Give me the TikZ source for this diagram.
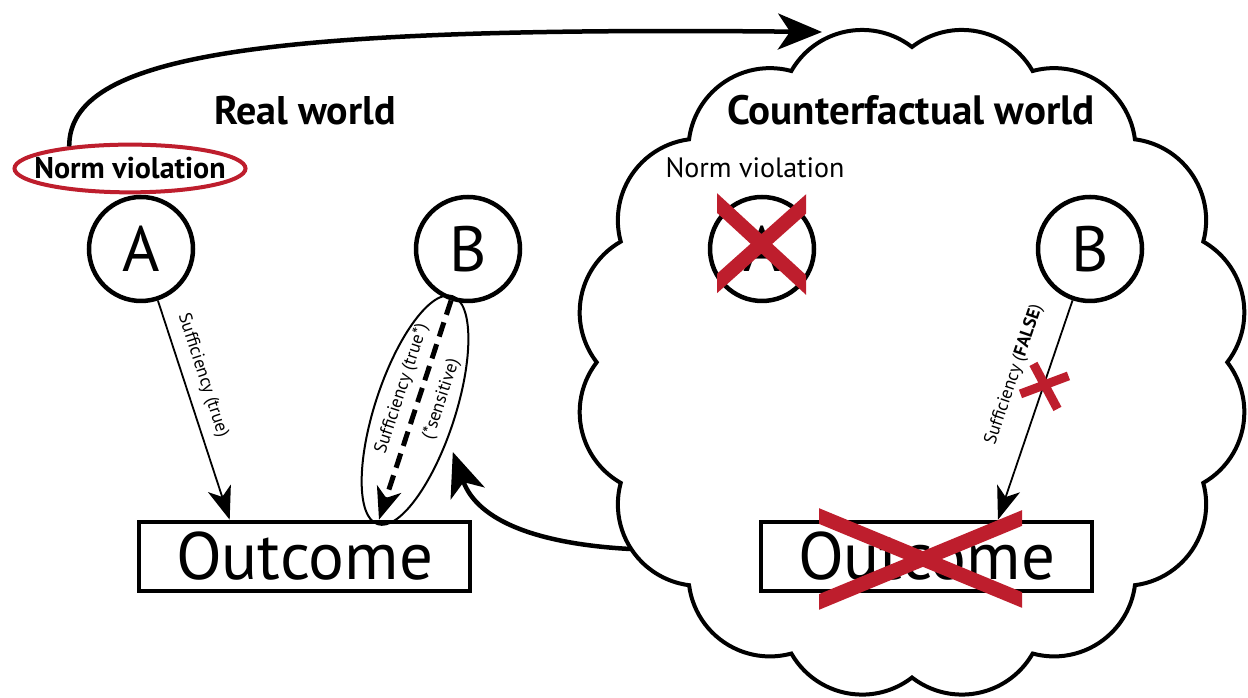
\documentclass[tikz,border=0pt]{standalone}
\usepackage{fontspec}
\setmainfont{PT Sans}
\usepackage{xcolor}
\usepackage{tikz}
\usetikzlibrary{calc}
\usetikzlibrary{arrows.meta}
\usetikzlibrary{shapes.geometric}
\definecolor{normred}{RGB}{190,30,45}

\begin{document}
\begin{tikzpicture}[x=1pt,y=1pt,
  world/.style={font=\fontsize{40}{40}\selectfont\bfseries},
  norm/.style={font=\fontsize{28}{28}\selectfont,inner sep=0pt},
  agent/.style={draw,circle,line width=4.5pt,minimum size=104pt,inner sep=0pt,font=\fontsize{64}{64}\selectfont},
  outcome/.style={draw,rectangle,line width=4.5pt,minimum width=331pt,minimum height=69pt,inner sep=0pt,font=\fontsize{67}{67}\selectfont},
  suff/.style={font=\fontsize{18}{18}\selectfont,inner sep=0pt},
  thinarrow/.style={line width=1.8pt,-{Stealth[length=33pt,width=24pt,inset=9pt]}},
  bigarrow/.style={line width=4.5pt,-{Stealth[length=44pt,width=36pt,inset=12pt]}},
  cross/.style={normred,line width=14.5pt},
  ]
  \useasboundingbox[fill=white] (0,0) rectangle (1248,698);

  % counterfactual cloud
  \coordinate (cfc) at (912,336);
  \draw[line width=4pt] (cfc) ++(90:315)
    \foreach \k in {0,...,15} {arc[start angle=52.25+22.5*\k, delta angle=98, radius=81.5]} -- cycle;
  \coordinate (cloudIn) at (822,666);
  \coordinate (cloudOut) at (630,149);

  \node[world] (realTitle) at (305,587) {Real world};
  \node[world,font=\fontsize{41}{41}\selectfont\bfseries] (cfTitle) at (911,588) {Counterfactual world};
  \node[norm,ellipse,draw=normred,line width=4pt,inner xsep=-14pt,inner ysep=6pt,minimum width=231pt,minimum height=47pt,font=\fontsize{30}{30}\selectfont\bfseries] (normReal) at (130,529.5) {Norm violation};
  \node[norm] (normCf) at (755,530) {Norm violation};

  \node[agent] (realA) at (141,449) {A};
  \node[agent] (realB) at (468,449) {B};
  \node[agent] (cfA) at (762,449) {A};
  \node[agent] (cfB) at (1090,449) {B};
  \node[outcome] (realOut) at (304.5,141.5) {Outcome};
  \node[outcome] (cfOut) at (926.5,141.5) {Outcome};

  % real world
  \draw[thinarrow] (realA) -- node[suff,sloped,above=10pt,pos=0.37]{Sufficiency (true)}%
    ($(realOut.north west)!0.277!(realOut.north east)$);
  \draw[line width=5pt,dash pattern=on 15pt off 8pt,-{Stealth[length=32pt,width=25pt,inset=9pt]}] %
    (realB) -- node[sloped,ellipse,draw,solid,line width=2pt,minimum width=240pt,minimum height=80pt] (sensEll) {}%
    node[suff,sloped,above=8pt,pos=0.43]{Sufficiency (true*)}%
    node[suff,sloped,below=11pt,pos=0.42]{(*sensitive)}%
    ($(realOut.north west)!0.722!(realOut.north east)$);

  % counterfactual world
  \draw[thinarrow] (cfB) -- coordinate[pos=0.39] (cfCut)%
    node[suff,sloped,above=22pt,pos=0.385]{Sufficiency (\textbf{FALSE})}%
    ($(cfOut.north west)!0.713!(cfOut.north east)$);
  \draw[normred,line width=9pt] ($(cfCut)+(-23,-8)$) -- ($(cfCut)+(25,10)$)
    ($(cfCut)+(-10,22)$) -- ($(cfCut)+(14,-23)$);
  \begin{scope}
    \clip ($(cfA)+(-45,-70)$) rectangle ($(cfA)+(44,70)$);
    \draw[cross] ($(cfA)+(-55,55.2)$) -- ($(cfA)+(53,-44.2)$)
      ($(cfA)+(-55,-43.4)$) -- ($(cfA)+(54,53.9)$);
  \end{scope}
  \begin{scope}
    \clip ($(cfOut)+(-107.5,-80)$) rectangle ($(cfOut)+(95.5,80)$);
    \draw[cross] ($(cfOut)+(-117.5,44.6)$) -- ($(cfOut)+(105.5,-47.6)$)
      ($(cfOut)+(-117.5,-49.6)$) -- ($(cfOut)+(105.5,42.6)$);
  \end{scope}

  % between the worlds
  \draw[bigarrow] (normReal.160) .. controls +(0,90) and +(-572,6) .. (cloudIn);
  \draw[bigarrow] (cloudOut) .. controls +(-90,5) and +(25,-70) .. (sensEll.east |- 0,246);
\end{tikzpicture}
\end{document}
